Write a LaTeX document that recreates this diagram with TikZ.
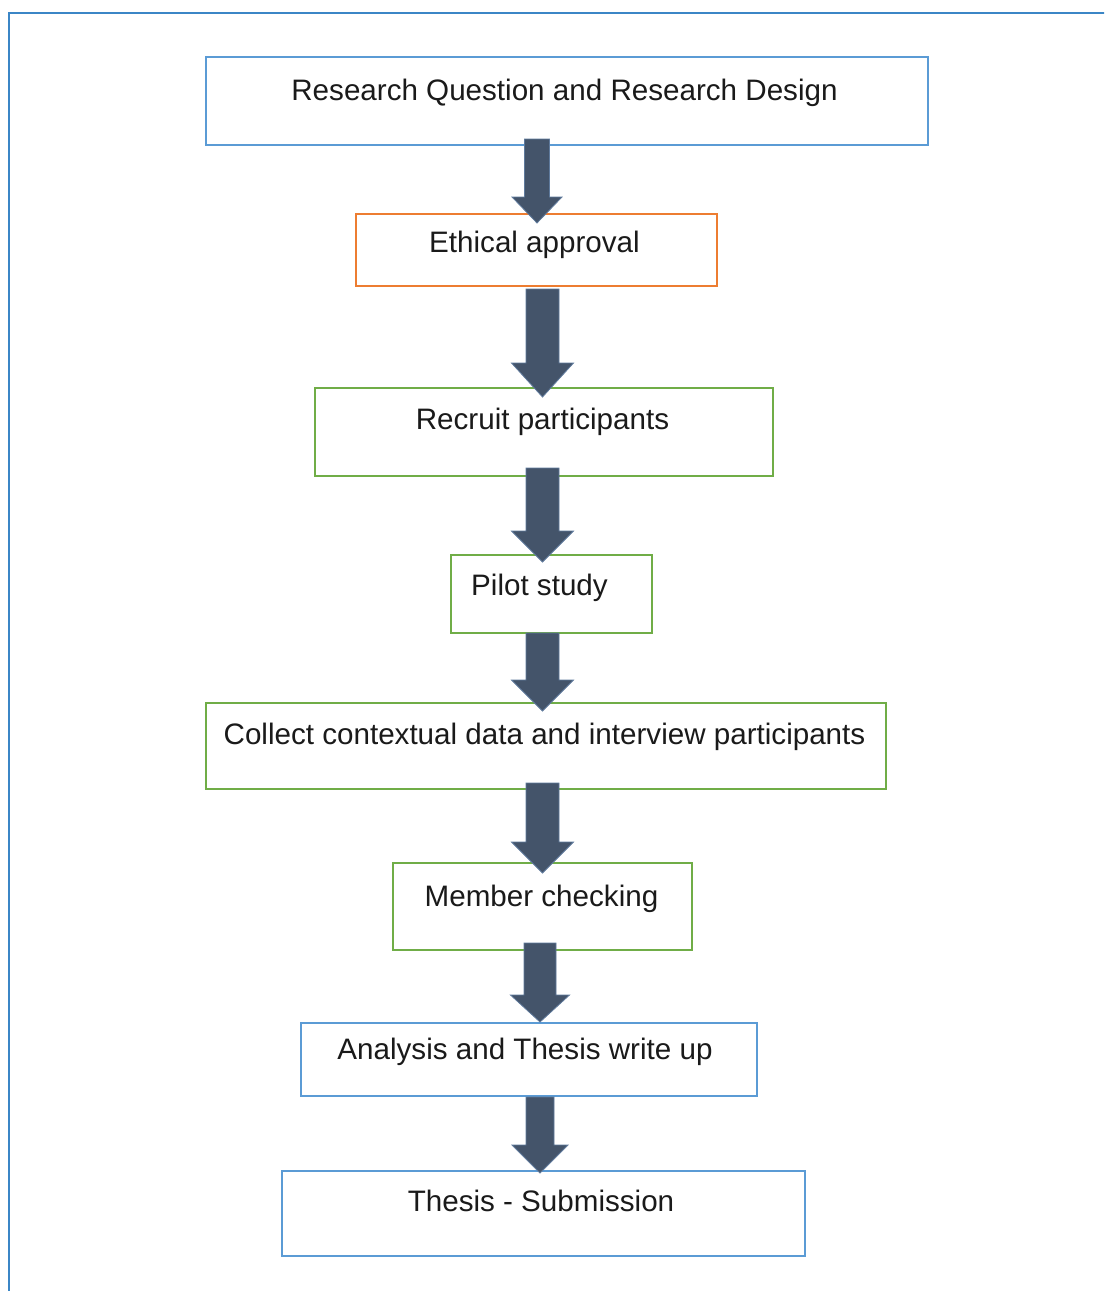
\documentclass[tikz,border=0pt]{standalone}
\usepackage{fontspec}
\setmainfont{Liberation Sans}
\usetikzlibrary{calc}

\definecolor{framecol}{HTML}{3B86C6}
\definecolor{boxblue}{HTML}{5B9BD5}
\definecolor{boxorange}{HTML}{ED7D31}
\definecolor{boxgreen}{HTML}{70AD47}
\definecolor{arrowfill}{HTML}{44546A}
\definecolor{arrowedge}{HTML}{5F7A9C}
\definecolor{textcol}{HTML}{1A1A1A}

% block arrow: #1 top centre, #2 tip, #3 half shaft width, #4 half head width, #5 head length
\newcommand\blockarrow[5]{%
  \path[barrow] let \p1=#1, \p2=#2 in
    (\x1-#3,\y1) -- (\x1+#3,\y1) -- (\x1+#3,\y2+#5) -- (\x1+#4,\y2+#5)
    -- (\x1,\y2) -- (\x1-#4,\y2+#5) -- (\x1-#3,\y2+#5) -- cycle;}

\begin{document}
\begin{tikzpicture}[x=1pt,y=-1pt,
  stagebox/.style={draw=#1, line width=1.6pt, fill=white, rectangle,
    inner sep=0pt, outer sep=0pt},
  lbl/.style={anchor=base, inner sep=0pt, text=textcol,
    font=\fontsize{29.6}{36}\selectfont},
  barrow/.style={fill=arrowfill, draw=arrowedge, line width=0.8pt, line join=miter}]

\clip (0,0) rectangle (1104,1291);
\fill[white] (0,0) rectangle (1104,1291);

% outer frame, running off the right and bottom edges
\draw[framecol, line width=2.6pt] (9,1320) -- (9,13) -- (1130,13);

% stages
\node[stagebox=boxblue,   minimum width=722pt, minimum height=88pt] (b1) at (567,101) {};
\node[stagebox=boxorange, minimum width=361pt, minimum height=72pt] (b2) at (536.5,250) {};
\node[stagebox=boxgreen,  minimum width=458pt, minimum height=88pt] (b3) at (544,432) {};
\node[stagebox=boxgreen,  minimum width=201pt, minimum height=78pt] (b4) at (551.5,594) {};
\node[stagebox=boxgreen,  minimum width=680pt, minimum height=86pt] (b5) at (546,746) {};
\node[stagebox=boxgreen,  minimum width=299pt, minimum height=87pt] (b6) at (542.5,906.5) {};
\node[stagebox=boxblue,   minimum width=456pt, minimum height=73pt] (b7) at (529,1059.5) {};
\node[stagebox=boxblue,   minimum width=523pt, minimum height=85pt] (b8) at (543.5,1213.5) {};

% connecting block arrows
\blockarrow{([xshift=-30pt,yshift=6pt]b1.south)}{([yshift=-9pt]b2.north)}{12.5}{25}{26}
\blockarrow{([xshift=6pt,yshift=-3pt]b2.south)}{([yshift=-9pt]b3.north)}{16.5}{31}{34}
\blockarrow{([xshift=-1.5pt,yshift=8pt]b3.south)}{([yshift=-7pt]b4.north)}{16.5}{31}{31}
\blockarrow{([xshift=-9pt,yshift=0pt]b4.south)}{([yshift=-8pt]b5.north)}{16.5}{31}{31}
\blockarrow{([xshift=-3.5pt,yshift=6pt]b5.south)}{([yshift=-10pt]b6.north)}{16.5}{31}{31}
\blockarrow{([xshift=-2.5pt,yshift=7pt]b6.south)}{([yshift=1pt]b7.north)}{16}{29.5}{27}
\blockarrow{([xshift=11pt,yshift=-1pt]b7.south)}{([yshift=-2pt]b8.north)}{14}{28}{28}

% stage labels
\node[lbl] (t1) at (564.5,100) {Research Question and Research Design};
\node[lbl] (t2) at (534.5,252) {Ethical approval};
\node[lbl] (t3) at (542.5,429) {Recruit participants};
\node[lbl] (t4) at (539.5,595) {Pilot study};
\node[lbl] (t5) at (544.5,744) {Collect contextual data and interview participants};
\node[lbl] (t6) at (541.5,906) {Member checking};
\node[lbl] (t7) at (525,1059) {Analysis and Thesis write up};
\node[lbl] (t8) at (541,1211) {Thesis - Submission};
\end{tikzpicture}
\end{document}
